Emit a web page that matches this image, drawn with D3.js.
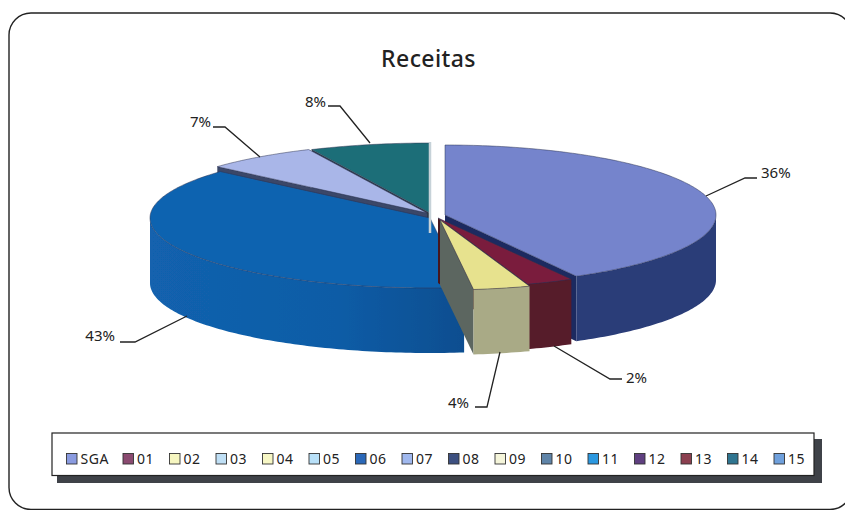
<!DOCTYPE html>
<html><head><meta charset="utf-8">
<script src="https://cdn.jsdelivr.net/npm/d3@7"></script>
<style>html,body{margin:0;padding:0;background:#fff;overflow:hidden}svg{display:block}text{font-family:"Noto Sans",Lato,sans-serif;fill:#222}</style>
</head><body><svg id="c" width="845" height="510"></svg>
<script>
const title = "Receitas";
const categories = ["SGA","01","02","03","04","05","06","07","08","09","10","11","12","13","14","15"];
const values = [36,2,4,0,0,0,43,7,0,0,0,0,0,0,8,0];
const legendColors = ["#8A9BE0","#8A4A70","#F6F6C0","#BFDFF5","#F7F7C5","#B8E0F8","#2B68B8","#A0B8EE","#3D5080","#F5F5DA","#5F84A8","#2B98E0","#5F3F80","#8B3F4F","#2F7590","#6FA0DC"];

// styling and calibration of the skewed 3D look (not data)
const looks = {
  "SGA":{cx:445,cy:215,rx:271,ry:70,top:"#7484CC",wall:"#2A3C78",face:"#1E2A60"},
  "01": {cx:438,cy:218,rx:275,ry:70,top:"#7A1F3C",wall:"#571A2A",face:"#46161F"},
  "02": {cx:440,cy:220,rx:275,ry:70,top:"#E7E28E",wall:"#A9AA86",face:"#5C6660"},
  "06": {cx:430,cy:218,rx:280,ry:70,top:"#1164B0",wall:"url(#blueWall)",face:"#0B5295"},
  "07": {cx:427,cy:213,rx:280,ry:70,top:"#A9B6E8",wall:"#5A6590",face:"#3A4668"},
  "14": {cx:430,cy:213,rx:280,ry:70,top:"#1F6E78",wall:"#1A5560",face:"#2C3A4A"}
};
const depth = 65;
const warpDegrees = [0,151,161,173,311.5,335,360];
const leaders = [
  {name:"SGA",pts:[[706,196],[745,178],[757,178]],tx:761,ty:178,anchor:"start"},
  {name:"01", pts:[[554,346],[610,379],[622,379]],tx:626,ty:383,anchor:"start"},
  {name:"02", pts:[[500,352],[487,407],[475,407]],tx:469,ty:408,anchor:"end"},
  {name:"06", pts:[[187,316],[135,342],[120,342]],tx:115,ty:341,anchor:"end"},
  {name:"07", pts:[[260,157],[225,127],[213,127]],tx:211,ty:127,anchor:"end"},
  {name:"14", pts:[[370,143],[340,106],[328,106]],tx:326,ty:107,anchor:"end"}
];

const svg = d3.select("#c");
const defs = svg.append("defs");
defs.append("filter").attr("id","soft").append("feGaussianBlur").attr("stdDeviation",0.5);
const grad = defs.append("linearGradient").attr("id","blueWall");
grad.append("stop").attr("offset","0%").attr("stop-color","#1262AE");
grad.append("stop").attr("offset","60%").attr("stop-color","#0F5CA6");
grad.append("stop").attr("offset","100%").attr("stop-color","#0A4E90");

svg.append("rect").attr("x",9).attr("y",13).attr("width",843).attr("height",496.5).attr("rx",22)
  .attr("fill","#fff").attr("stroke","#222").attr("stroke-width",1.4);
svg.append("text").attr("x",428.5).attr("y",67).attr("text-anchor","middle")
  .attr("font-size",23).attr("font-weight",500).attr("letter-spacing",.4).text(title);

const arcs = d3.pie().sort(null).value(d=>d)(values);
const present = arcs.map((a,i)=>({...a,name:categories[i]})).filter(a=>a.value>0);
// cumulative shares -> screen ellipse angle
const cuts = [0,...present.map(a=>a.endAngle)];
const warp = d3.scaleLinear().domain(cuts).range(warpDegrees);
const rad = Math.PI/180;
const line = d3.line();
const rim = (L,t,dz=0)=>[L.cx+L.rx*Math.sin(t*rad), L.cy-L.ry*Math.cos(t*rad)+dz];

const pieG = svg.append("g").attr("filter","url(#soft)");
const drawOrder = ["14","07","06","SGA","01","02"];
drawOrder.forEach(n=>{
  const a = present.find(p=>p.name===n), L = looks[n];
  const t0 = warp(a.startAngle), t1 = warp(a.endAngle);
  const g = pieG.append("g");
  const quad = t=>{
    const p = rim(L,t), q=[L.cx,L.cy];
    return line([q,p,[p[0],p[1]+depth],[q[0],q[1]+depth]])+"Z";
  };
  if (Math.sin(t0*rad)<-0.01) g.append("path").attr("d",quad(t0)).attr("fill",L.face);
  if (Math.sin(t1*rad)>0.01) g.append("path").attr("d",quad(t1)).attr("fill",L.face);
  const w0=Math.max(t0,90), w1=Math.min(t1,270);
  if (w1>w0){
    const ts=d3.range(w0,w1,1).concat([w1]);
    const pts=ts.map(t=>rim(L,t)).concat(ts.slice().reverse().map(t=>rim(L,t,depth)));
    g.append("path").attr("d",line(pts)+"Z").attr("fill",L.wall);
  }
  const ts=d3.range(t0,t1,1).concat([t1]);
  g.append("path").attr("d",line([[L.cx,L.cy],...ts.map(t=>rim(L,t))])+"Z")
    .attr("fill",L.top).attr("stroke","#2a3050").attr("stroke-opacity",.55).attr("stroke-width",.9);
});
pieG.append("line").attr("x1",430).attr("x2",430).attr("y1",142).attr("y2",233)
  .attr("stroke","#C6D2D8").attr("stroke-width",2.5);

leaders.forEach(l=>{
  const v = values[categories.indexOf(l.name)];
  svg.append("path").attr("d",line(l.pts)).attr("fill","none").attr("stroke","#222").attr("stroke-width",1.3);
  svg.append("text").attr("x",l.tx).attr("y",l.ty).attr("text-anchor",l.anchor).attr("font-size",15).text(v+"%");
});

// legend
svg.append("rect").attr("x",57).attr("y",439).attr("width",765).attr("height",44).attr("fill","#3F4248");
svg.append("rect").attr("x",52).attr("y",433).attr("width",762).attr("height",42.5).attr("fill","#fff").attr("stroke","#222").attr("stroke-width",1.2);
const legendX = d3.scaleBand().domain(categories.slice(1)).range([123,820.5]);
categories.forEach((c,i)=>{
  const x = i===0 ? 66.5 : legendX(c);
  svg.append("rect").attr("x",x).attr("y",453.5).attr("width",10.5).attr("height",10.5)
    .attr("fill",legendColors[i]).attr("stroke","#333").attr("stroke-width",.9);
  svg.append("text").attr("x",x+14).attr("y",464).attr("font-size",14).attr("letter-spacing",.5).text(c);
});
</script></body></html>
